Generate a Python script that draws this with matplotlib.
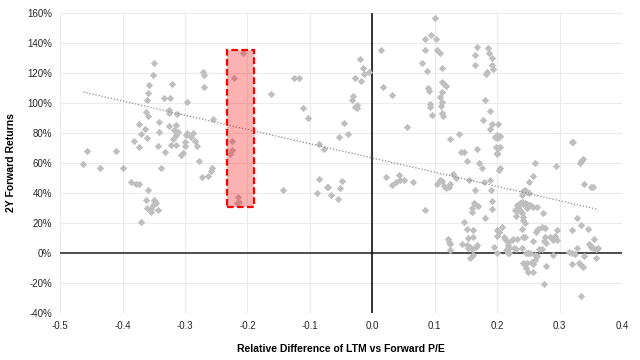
import numpy as np
import matplotlib
matplotlib.use("Agg")
import matplotlib.pyplot as plt
from matplotlib.patches import Rectangle
from matplotlib.ticker import FuncFormatter

plt.rcParams['font.family'] = ['Liberation Sans', 'DejaVu Sans']

# relative difference of LTM vs forward P/E, and 2Y forward return (%)
pe_diff = [
    -0.463, -0.457, -0.436, -0.410, -0.400, -0.386, -0.379, -0.374, -0.360, -0.362,
    -0.350, -0.346, -0.352, -0.361, -0.355, -0.354, -0.343, -0.370, -0.350, -0.351,
    -0.357, -0.360, -0.361, -0.362, -0.360, -0.374, -0.370, -0.364, -0.361, -0.381,
    -0.374, -0.344, -0.342, -0.342, -0.334, -0.324, -0.321, -0.326, -0.326, -0.313,
    -0.297, -0.325, -0.314, -0.318, -0.311, -0.315, -0.320, -0.323, -0.314, -0.332,
    -0.303, -0.307, -0.300, -0.300, -0.297, -0.298, -0.288, -0.291, -0.284, -0.281,
    -0.278, -0.273, -0.264, -0.259, -0.257, -0.272, -0.270, -0.269, -0.338, -0.256,
    -0.207, -0.221, -0.225, -0.225, -0.228, -0.215, -0.214, -0.216,
    -0.163, -0.125, -0.118, -0.143, -0.111, -0.103, -0.085, -0.078, -0.085, -0.073,
    -0.071, -0.088, -0.066, -0.055, -0.051, -0.048, -0.054, -0.039, -0.045, -0.033,
    -0.031, -0.027, -0.024, -0.025, -0.028, -0.018, -0.014, -0.015, -0.019, -0.005,
    0.014, 0.017, 0.031, 0.055, 0.100, 0.094, 0.085, 0.102, 0.085, 0.104,
    0.108, 0.079, 0.087, 0.111, 0.112, 0.115, 0.118, 0.089, 0.091, 0.111,
    0.109, 0.111, 0.092, 0.092, 0.110, 0.095, 0.111, 0.113, 0.168, 0.185,
    0.187, 0.164, 0.192, 0.165, 0.191, 0.194, 0.183, 0.182, 0.181, 0.188,
    0.177, 0.191, 0.202, 0.189, 0.125, 0.139, 0.196, 0.200, 0.203, 0.199,
    0.205, 0.198, 0.201, 0.204, 0.199, 0.200, 0.142, 0.147, 0.168, 0.151,
    0.171, 0.175, 0.204, 0.203, 0.022, 0.031, 0.038, 0.042, 0.044, 0.050,
    0.065, 0.085, 0.104, 0.108, 0.111, 0.115, 0.118, 0.122, 0.124, 0.129,
    0.134, 0.155, 0.164, 0.179, 0.188, 0.190, 0.163, 0.170, 0.159, 0.160,
    0.192, 0.191, 0.180, 0.147, 0.151, 0.162, 0.154, 0.161, 0.143, 0.152,
    0.156, 0.154, 0.166, 0.168, 0.159, 0.121, 0.123, 0.125, 0.124, 0.156,
    0.162, 0.199, 0.203, 0.200, 0.207, 0.211, 0.213, 0.195, 0.199, 0.218,
    0.219, 0.260, 0.294, 0.319, 0.322, 0.332, 0.335, 0.337, 0.339, 0.350,
    0.354, 0.257, 0.251, 0.244, 0.248, 0.251, 0.239, 0.242, 0.231, 0.233,
    0.236, 0.239, 0.242, 0.244, 0.248, 0.252, 0.257, 0.263, 0.228, 0.232,
    0.236, 0.239, 0.242, 0.241, 0.244, 0.230, 0.247, 0.274, 0.271, 0.276,
    0.264, 0.262, 0.266, 0.239, 0.244, 0.242, 0.231, 0.218, 0.217, 0.214,
    0.218, 0.225, 0.227, 0.239, 0.230, 0.258, 0.276, 0.284, 0.292, 0.290,
    0.295, 0.295, 0.275, 0.278, 0.267, 0.271, 0.246, 0.250, 0.252, 0.260,
    0.264, 0.242, 0.244, 0.248, 0.255, 0.260, 0.258, 0.246, 0.250, 0.258,
    0.278, 0.290, 0.275, 0.320, 0.327, 0.334, 0.346, 0.315, 0.319, 0.328,
    0.324, 0.339, 0.347, 0.351, 0.355, 0.354, 0.358, 0.362, 0.358, 0.319,
    0.331, 0.334, 0.337, 0.334, 0.223, 0.219,
]
fwd_return = [
    59.3, 68.2, 56.9, 68.2, 56.9, 47.3, 46.2, 46.2, 42.0, 35.5,
    35.3, 33.3, 32.0, 30.2, 29.3, 27.3, 28.9, 20.5, 126.5, 118.7,
    112.2, 106.5, 102.0, 94.2, 91.3, 86.0, 79.5, 82.5, 76.5, 74.9,
    70.9, 71.1, 87.1, 80.7, 103.1, 103.5, 112.9, 95.1, 93.1, 92.7,
    100.9, 84.7, 85.3, 82.0, 80.7, 78.5, 76.2, 72.2, 71.8, 67.5,
    66.5, 65.1, 71.3, 74.2, 80.2, 78.7, 80.2, 77.1, 74.9, 71.5,
    61.5, 50.9, 51.5, 54.7, 56.7, 120.9, 118.7, 110.5, 56.9, 89.1,
    133.1, 116.5, 74.7, 68.7, 66.0, 37.1, 33.8, 33.1,
    105.8, 116.5, 116.5, 42.0, 96.9, 89.8, 72.5, 69.3, 49.1, 44.2,
    44.2, 40.2, 38.5, 36.0, 43.1, 47.8, 77.1, 79.5, 86.7, 102.0,
    104.9, 97.5, 98.5, 96.9, 116.9, 114.7, 119.1, 123.1, 129.3, 120.9,
    135.3, 110.9, 105.5, 84.2, 156.5, 145.5, 142.5, 142.5, 135.3, 135.3,
    133.1, 126.5, 121.1, 123.5, 114.0, 112.9, 111.1, 109.8, 108.0, 107.5,
    104.2, 100.9, 99.3, 97.1, 98.0, 92.0, 93.1, 91.3, 137.1, 136.7,
    133.1, 132.0, 130.2, 125.3, 125.3, 122.7, 120.9, 119.3, 102.0, 94.5,
    88.5, 86.0, 86.0, 82.5, 75.8, 79.3, 77.5, 78.7, 77.5, 76.5,
    78.0, 70.9, 69.8, 70.5, 66.9, 66.0, 67.5, 67.5, 69.3, 61.3,
    59.8, 56.9, 56.5, 55.3, 50.9, 45.3, 47.1, 52.2, 48.7, 48.5,
    47.3, 28.7, 46.2, 48.7, 48.2, 44.7, 43.1, 43.8, 46.0, 52.7,
    49.8, 48.5, 41.8, 47.5, 48.5, 41.8, 33.1, 31.1, 29.8, 27.5,
    34.7, 29.3, 23.3, 20.5, 15.8, 15.1, 9.8, 10.5, 6.2, 5.3,
    4.2, 3.1, 4.2, 5.3, 2.5, 9.1, 7.1, 6.0, 2.0, -3.5,
    -1.5, 15.3, 14.2, 11.3, 17.5, 10.5, 9.1, 4.2, -0.2, 5.3,
    3.1, 60.2, 58.2, 74.2, 74.2, 60.2, 61.5, 62.5, 45.8, 43.8,
    43.8, 51.3, 47.1, 42.0, 40.9, 39.8, 38.7, 41.5, 32.0, 30.9,
    33.1, 34.2, 32.7, 33.5, 32.5, 32.0, 30.9, 30.9, 28.7, 27.8,
    28.7, 26.5, 24.2, 22.0, 19.8, 24.7, 29.8, 26.5, 17.5, 16.5,
    15.3, 14.2, 15.8, 15.8, 10.9, 10.9, 9.1, 7.5, 3.5, 2.0,
    0.2, 9.3, 3.1, 3.1, 2.5, 8.2, 10.9, 10.9, 11.3, 8.7,
    8.7, 15.3, 8.2, 6.5, 2.5, 2.9, 0.2, -0.2, 0.2, -1.3,
    -2.0, -6.5, -7.3, -6.5, -5.8, -4.7, -7.3, -10.2, -12.5, -12.5,
    -8.7, -1.3, -20.7, 15.3, 23.5, 18.7, 15.8, 0.9, -0.2, 3.1,
    -0.7, -2.0, 6.0, 4.2, 9.1, 3.1, 2.5, 3.1, -3.5, -7.3,
    -6.5, -8.0, -9.5, -28.7, 8.7, -0.2,
]

# linear trendline (% per unit of x, % at x=0)
trend_slope = -95.0
trend_intercept = 63.3

# highlighted band
band_x = [-0.233, -0.190]
band_y = [30.7, 135.3]

x_ticks = [-0.5, -0.4, -0.3, -0.2, -0.1, 0.0, 0.1, 0.2, 0.3, 0.4]
y_ticks = [-40, -20, 0, 20, 40, 60, 80, 100, 120, 140, 160]

fig = plt.figure(figsize=(6.4, 3.6), dpi=100)
ax = fig.add_axes([0.094, 0.131, 0.878, 0.833])

ax.scatter(pe_diff, fwd_return, marker='D', s=14, color='#BFBFBF', linewidths=0, zorder=3)

tx = np.array([min(pe_diff), max(pe_diff)])
ax.plot(tx, trend_slope * tx + trend_intercept, linestyle=(0, (1, 1.5)), color='#8C8C8C',
        linewidth=0.9, zorder=4)

ax.axhline(0, color='#404040', linewidth=1.3, zorder=2)
ax.axvline(0, color='black', linewidth=1.1, zorder=2)

rect = Rectangle((band_x[0], band_y[0]), band_x[1] - band_x[0], band_y[1] - band_y[0],
                 facecolor=(1, 0, 0, 0.3), edgecolor='#FF0000', linewidth=1.6,
                 linestyle=(0, (3, 1.5)), zorder=5)
ax.add_patch(rect)

ax.set_xlim(-0.5, 0.4)
ax.set_ylim(-40, 160)
ax.set_xticks(x_ticks)
ax.set_yticks(y_ticks)
ax.xaxis.set_major_formatter(FuncFormatter(lambda v, p: f"{v:.1f}"))
ax.yaxis.set_major_formatter(FuncFormatter(lambda v, p: f"{v:.0f}%"))
ax.grid(True, color='#EBEBEB', linewidth=0.8, zorder=0)
ax.set_axisbelow(True)
for s in ax.spines.values():
    s.set_visible(False)
ax.tick_params(length=0, labelsize=7, labelcolor='#262626', pad=6)

ax.set_xlabel("Relative Difference of LTM vs Forward P/E", fontsize=7.5, fontweight='bold',
              labelpad=9)
ax.set_ylabel("2Y Forward Returns", fontsize=7.5, fontweight='bold', labelpad=8)

fig.savefig("out.png", dpi=100)
